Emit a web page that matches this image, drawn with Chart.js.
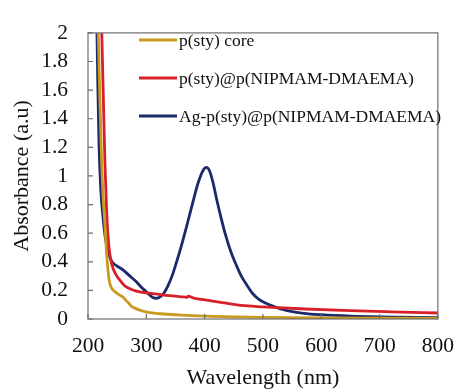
<!DOCTYPE html>
<html>
<head>
<meta charset="utf-8">
<script src="https://cdn.jsdelivr.net/npm/chart.js@4.4.0/dist/chart.umd.min.js"></script>
<style>
  html, body { margin: 0; padding: 0; background: #fff; }
  #wrap { width: 468px; height: 390px; }
</style>
</head>
<body>
<div id="wrap"><canvas id="myChart"></canvas></div>
<script>
// values (wavelength in nm, absorbance in a.u)
const coreWave = [217, 220, 223, 226, 229, 232, 236, 240, 245, 253, 261, 265, 269, 273, 278, 290, 306, 330, 360, 400, 450, 500, 600, 700, 800];
const coreAbs = [2.1, 1.6, 1.15, 0.85, 0.66, 0.45, 0.28, 0.22, 0.195, 0.17, 0.15, 0.13, 0.115, 0.095, 0.08, 0.06, 0.045, 0.035, 0.027, 0.02, 0.015, 0.012, 0.008, 0.006, 0.005];

const shellWave = [223, 226, 229, 232, 236, 241, 248, 255, 261, 270, 283, 300, 316, 340, 360, 370, 372, 380, 407, 430, 463, 500, 572, 650, 720, 800];
const shellAbs = [2.1, 1.6, 1.1, 0.75, 0.5, 0.38, 0.31, 0.27, 0.24, 0.215, 0.195, 0.183, 0.175, 0.163, 0.155, 0.152, 0.16, 0.148, 0.13, 0.115, 0.095, 0.085, 0.07, 0.058, 0.05, 0.042];

const agWave = [215, 217, 219, 222, 226, 230, 235, 241, 250, 261, 272, 283, 292, 300, 308, 315, 322, 330, 338, 345, 352, 360, 368, 375, 382, 388, 394, 399, 403, 408, 414, 421, 428, 435, 445, 455, 463, 472, 482, 492, 505, 517, 540, 570, 600, 650, 700, 800];
const agAbs = [2.1, 1.6, 1.2, 0.9, 0.7, 0.56, 0.46, 0.4, 0.37, 0.34, 0.3, 0.26, 0.22, 0.19, 0.16, 0.145, 0.15, 0.18, 0.24, 0.31, 0.4, 0.51, 0.63, 0.74, 0.85, 0.94, 1.01, 1.05, 1.06, 1.04, 0.96, 0.83, 0.71, 0.6, 0.47, 0.37, 0.3, 0.24, 0.18, 0.14, 0.11, 0.09, 0.06, 0.04, 0.03, 0.02, 0.015, 0.01];

const seriesNames = ['p(sty) core', 'p(sty)@p(NIPMAM-DMAEMA)', 'Ag-p(sty)@p(NIPMAM-DMAEMA)'];
const seriesColors = ['#c99a1e', '#d7202a', '#1b2a6b'];

const xTicks = [200, 300, 400, 500, 600, 700, 800];
const yTicks = [0, 0.2, 0.4, 0.6, 0.8, 1, 1.2, 1.4, 1.6, 1.8, 2];

function pairs(xs, ys) {
    return xs.map((x, i) => ({ x: x, y: ys[i] }));
}

const serif = 'Liberation Serif, Times New Roman, serif';
const frameColor = '#6e6e6e';

// frame, inward tick marks and the legend inside the plot
const decor = {
    id: 'decor',
    afterDraw(chart) {
        const ctx = chart.ctx;
        const a = chart.chartArea;
        const xs = chart.scales.x;
        const ys = chart.scales.y;
        ctx.save();
        ctx.strokeStyle = frameColor;
        ctx.lineWidth = 1.2;
        ctx.strokeRect(a.left, a.top, a.right - a.left, a.bottom - a.top);
        ctx.beginPath();
        for (let v of xTicks) {
            const px = xs.getPixelForValue(v);
            ctx.moveTo(px, a.bottom);
            ctx.lineTo(px, a.bottom - 5);
        }
        for (let v of yTicks) {
            const py = ys.getPixelForValue(v);
            ctx.moveTo(a.left, py);
            ctx.lineTo(a.left + 5, py);
        }
        ctx.stroke();

        ctx.font = '17.5px ' + serif;
        ctx.textBaseline = 'middle';
        ctx.fillStyle = '#111';
        const rowY = [40, 78, 116];
        chart.data.datasets.forEach((ds, i) => {
            ctx.strokeStyle = ds.borderColor;
            ctx.lineWidth = 3;
            ctx.beginPath();
            ctx.moveTo(139, rowY[i]);
            ctx.lineTo(177, rowY[i]);
            ctx.stroke();
            ctx.fillText(ds.label, 179, rowY[i] + 1);
        });
        ctx.restore();
    }
};

const ctx = document.getElementById('myChart').getContext('2d');

const myChart = new Chart(ctx, {
    type: 'line',
    data: {
        datasets: [
            { label: seriesNames[0], data: pairs(coreWave, coreAbs), borderColor: seriesColors[0] },
            { label: seriesNames[1], data: pairs(shellWave, shellAbs), borderColor: seriesColors[1] },
            { label: seriesNames[2], data: pairs(agWave, agAbs), borderColor: seriesColors[2] }
        ]
    },
    options: {
        responsive: true,
        maintainAspectRatio: false,
        animation: false,
        elements: {
            point: { radius: 0 },
            line: { borderWidth: 2.8, cubicInterpolationMode: 'monotone', fill: false }
        },
        layout: { padding: { top: 22, right: 17, left: 0, bottom: 0 } },
        plugins: {
            legend: { display: false },
            tooltip: { enabled: false }
        },
        scales: {
            x: {
                type: 'linear',
                min: 200,
                max: 800,
                afterFit(scale) { scale.height = 71; },
                afterBuildTicks(scale) { scale.ticks = xTicks.map(v => ({ value: v })); },
                grid: { display: false, drawTicks: false },
                border: { display: false },
                ticks: { color: '#111', padding: 14, autoSkip: false, maxRotation: 0, font: { family: serif, size: 21.5 } },
                title: {
                    display: true,
                    text: 'Wavelength (nm)',
                    color: '#111',
                    font: { family: serif, size: 22, lineHeight: 1 },
                    padding: { top: 0, bottom: 1 }
                }
            },
            y: {
                min: 0,
                max: 2,
                afterFit(scale) { scale.width = 88; },
                afterBuildTicks(scale) { scale.ticks = yTicks.map(v => ({ value: v })); },
                grid: { display: false, drawTicks: false },
                border: { display: false },
                ticks: {
                    color: '#111',
                    padding: 20,
                    autoSkip: false,
                    font: { family: serif, size: 21.5 },
                    callback: (v) => String(Number(v.toFixed(1)))
                },
                title: {
                    display: true,
                    text: 'Absorbance (a.u)',
                    color: '#111',
                    font: { family: serif, size: 22, lineHeight: 1 },
                    padding: { top: 11, bottom: 0 }
                }
            }
        }
    },
    plugins: [decor]
});
</script>
</body>
</html>
